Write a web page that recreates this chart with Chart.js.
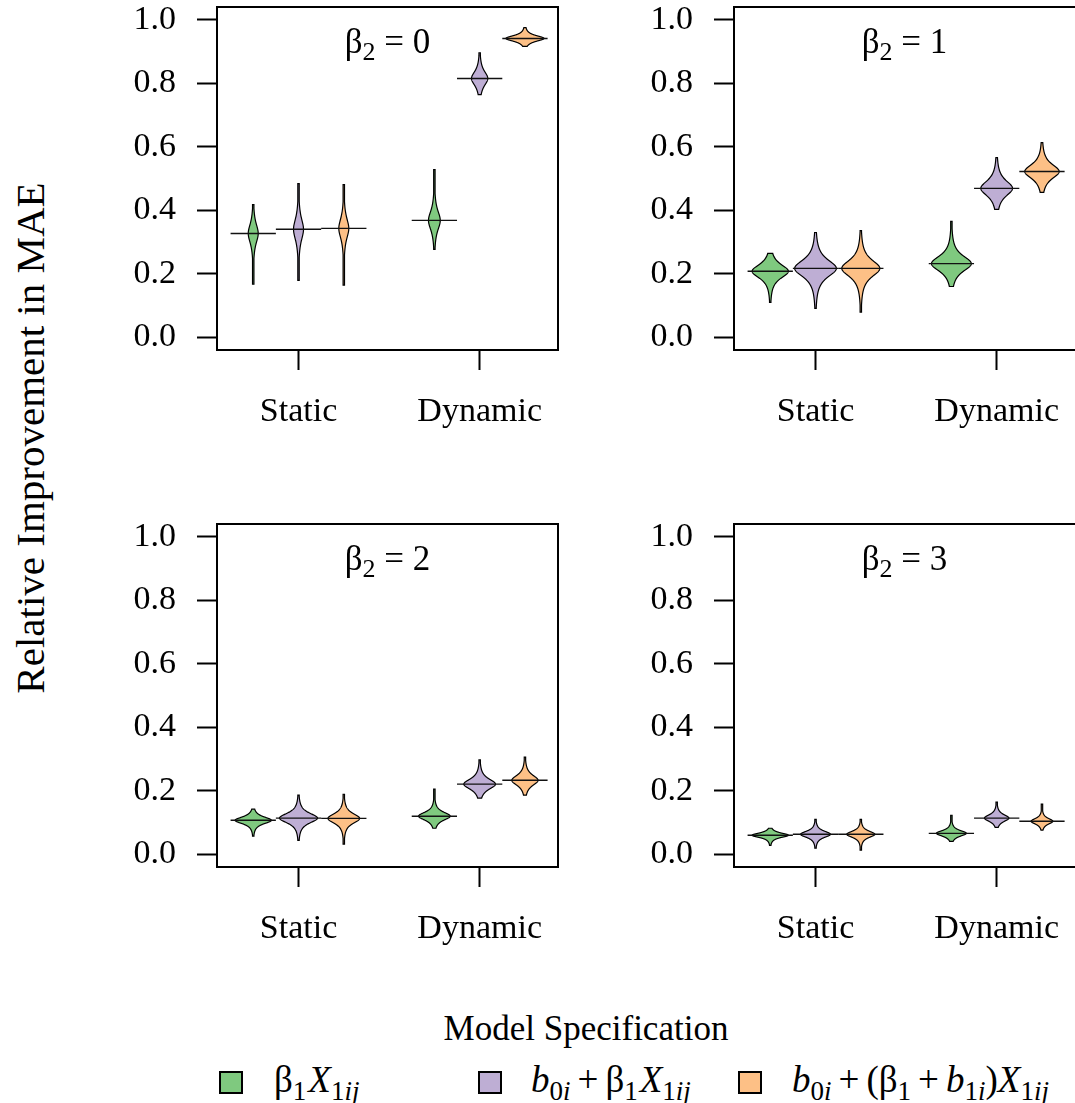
<!DOCTYPE html>
<html>
<head>
<meta charset="utf-8">
<script src="https://cdn.jsdelivr.net/npm/chart.js@4.4.0/dist/chart.umd.min.js"></script>
<style>
  html, body { margin: 0; padding: 0; background: #fff; }
  #fig { position: relative; width: 1075px; height: 1103px; overflow: hidden; font-family: "Liberation Serif", "Times New Roman", serif; color: #000; }
  #fig canvas { position: absolute; }
  .ylab { position: absolute; left: 30px; top: 438px; font-size: 41px; white-space: nowrap; transform: translate(-50%, -50%) rotate(-90deg); }
  .legtitle { position: absolute; left: 586px; top: 1029px; font-size: 35px; transform: translate(-50%, -50%); white-space: nowrap; }
  .legitem { position: absolute; top: 1082px; font-size: 37px; white-space: nowrap; transform: translateY(-50%); }
  .swatch { position: absolute; top: 1071px; width: 20px; height: 19px; border: 2px solid #000; }
  .legitem sub { font-size: 27px; vertical-align: -8px; }
  .op { margin: 0 7px; }
  .gap { margin-left: 2px; }
</style>
</head>
<body>
<div id="fig">
  <canvas id="p0"></canvas>
  <canvas id="p1"></canvas>
  <canvas id="p2"></canvas>
  <canvas id="p3"></canvas>
  <div class="ylab">Relative Improvement in MAE</div>
  <div class="legtitle">Model Specification</div>
  <div class="swatch" style="left:219px;background:#7FC97F"></div>
  <div class="legitem" style="left:274px">β<sub>1</sub><i class="gap">X</i><sub>1<i>ij</i></sub></div>
  <div class="swatch" style="left:478px;background:#BEAED4"></div>
  <div class="legitem" style="left:531px"><i>b</i><sub>0<i>i</i></sub><span class="op">+</span>β<sub>1</sub><i class="gap">X</i><sub>1<i>ij</i></sub></div>
  <div class="swatch" style="left:738px;background:#FDC086"></div>
  <div class="legitem" style="left:792px"><i>b</i><sub>0<i>i</i></sub><span class="op">+</span>(β<sub>1</sub><span class="op">+</span><i>b</i><sub>1<i>i</i></sub>)<i>X</i><sub>1<i>ij</i></sub></div>
</div>
<script>
// panels: beta2 value, one violin per (group, spec) in order
// Static G,P,O then Dynamic G,P,O
const beta2 = ['0', '1', '2', '3'];
const groups = ['Static', 'Dynamic'];
const specs = ['b1X', 'b0i+b1X', 'b0i+(b1+b1i)X'];
const specColors = ['#7FC97F', '#BEAED4', '#FDC086'];
const yTicks = [0, 0.2, 0.4, 0.6, 0.8, 1.0];

const medians = [
  [0.327, 0.340, 0.343, 0.368, 0.815, 0.941],
  [0.208, 0.217, 0.217, 0.232, 0.469, 0.522],
  [0.107, 0.114, 0.113, 0.120, 0.221, 0.233],
  [0.060, 0.063, 0.063, 0.066, 0.114, 0.104]
];
const lows = [
  [0.167, 0.179, 0.164, 0.277, 0.764, 0.916],
  [0.110, 0.091, 0.079, 0.160, 0.403, 0.456],
  [0.057, 0.044, 0.032, 0.082, 0.177, 0.186],
  [0.028, 0.019, 0.013, 0.041, 0.085, 0.076]
];
const highs = [
  [0.418, 0.484, 0.481, 0.528, 0.896, 0.975],
  [0.264, 0.330, 0.336, 0.365, 0.566, 0.613],
  [0.142, 0.186, 0.189, 0.205, 0.297, 0.306],
  [0.082, 0.110, 0.110, 0.123, 0.164, 0.158]
];
// spread of the central bulge (y units)
const spreads = [
  [0.034, 0.038, 0.036, 0.034, 0.025, 0.010],
  [0.024, 0.030, 0.029, 0.027, 0.027, 0.025],
  [0.012, 0.017, 0.017, 0.014, 0.018, 0.018],
  [0.008, 0.011, 0.011, 0.010, 0.012, 0.010]
];
// peak half-width of each violin (x units)
const peakWidths = [
  [0.11, 0.11, 0.11, 0.13, 0.18, 0.42],
  [0.40, 0.46, 0.42, 0.44, 0.35, 0.38],
  [0.40, 0.42, 0.35, 0.35, 0.35, 0.29],
  [0.40, 0.33, 0.31, 0.33, 0.27, 0.24]
];

const groupCenters = [2, 6];
const specOffsets = [-1, 0, 1];
const FONT = '"Liberation Serif", "Times New Roman", serif';

function posOf(k) {
  return groupCenters[Math.floor(k / 3)] + specOffsets[k % 3];
}

const violinPlugin = {
  id: 'violins',
  afterDatasetsDraw(chart, args, opts) {
    const { ctx, chartArea, scales: { x, y } } = chart;
    const p = opts.panel;
    ctx.save();
    ctx.beginPath();
    ctx.rect(chartArea.left, chartArea.top, chartArea.right - chartArea.left, chartArea.bottom - chartArea.top);
    ctx.clip();
    for (let k = 0; k < 6; k++) {
      const pos = posOf(k);
      const med = medians[p][k], lo = lows[p][k], hi = highs[p][k];
      const sd = spreads[p][k];
      const cx = x.getPixelForValue(pos);
      const wpx = x.getPixelForValue(pos + peakWidths[p][k]) - cx;
      const n = 200;
      const pts = [];
      for (let i = 0; i <= n; i++) {
        const v = lo + (hi - lo) * i / n;
        const u = (v - med) / sd;
        let hw = wpx * Math.pow(1 + u * u / 2, -1.5);
        hw = Math.max(hw, 0.7);
        pts.push([y.getPixelForValue(v), hw]);
      }
      ctx.beginPath();
      pts.forEach(([py, hw], i) => i ? ctx.lineTo(cx + hw, py) : ctx.moveTo(cx + hw, py));
      for (let i = pts.length - 1; i >= 0; i--) ctx.lineTo(cx - pts[i][1], pts[i][0]);
      ctx.closePath();
      ctx.fillStyle = specColors[k % 3];
      ctx.fill();
      ctx.lineWidth = 1.2;
      ctx.strokeStyle = '#000';
      ctx.stroke();

      // median bar
      const my = y.getPixelForValue(med);
      ctx.beginPath();
      ctx.moveTo(x.getPixelForValue(pos - 0.5), my);
      ctx.lineTo(x.getPixelForValue(pos + 0.5), my);
      ctx.lineWidth = 1.4;
      ctx.strokeStyle = '#111';
      ctx.stroke();
    }
    ctx.restore();

    // panel title, centred on the visible part of the frame
    const tx = (chartArea.left + Math.min(chartArea.right, opts.titleRight)) / 2;
    const ty = chartArea.top + 46;
    ctx.save();
    ctx.fillStyle = '#000';
    ctx.textBaseline = 'alphabetic';
    ctx.font = '35px ' + FONT;
    const w1 = ctx.measureText('β').width;
    ctx.font = '26px ' + FONT;
    const w2 = ctx.measureText('2').width;
    ctx.font = '35px ' + FONT;
    const rest = ' = ' + beta2[p];
    const w3 = ctx.measureText(rest).width;
    let sx = tx - (w1 + w2 + w3) / 2;
    ctx.fillText('β', sx, ty);
    sx += w1;
    ctx.font = '26px ' + FONT;
    ctx.fillText('2', sx, ty + 7);
    sx += w2;
    ctx.font = '35px ' + FONT;
    ctx.fillText(rest, sx, ty);

    // frame
    ctx.lineWidth = 2;
    ctx.strokeStyle = '#000';
    ctx.strokeRect(chartArea.left, chartArea.top, chartArea.right - chartArea.left, chartArea.bottom - chartArea.top);
    ctx.restore();
  }
};

const canvasW = 480, canvasH = 450;
// right-hand panels run past the window edge, so their frame is cut off
const placement = [
  { left: 90, top: 0, right: 12, xMax: 7.73 },
  { left: 607, top: 0, right: 4, xMax: 7.906 },
  { left: 90, top: 517, right: 12, xMax: 7.73 },
  { left: 607, top: 517, right: 4, xMax: 7.906 }
];

beta2.forEach((b, p) => {
  const cv = document.getElementById('p' + p);
  cv.width = canvasW;
  cv.height = canvasH;
  cv.style.left = placement[p].left + 'px';
  cv.style.top = placement[p].top + 'px';

  const datasets = specs.map((s, j) => ({
    label: s,
    data: [0, 1].map(g => ({ x: posOf(g * 3 + j), y: medians[p][g * 3 + j] })),
    backgroundColor: specColors[j],
    pointRadius: 0
  }));

  new Chart(cv, {
    type: 'scatter',
    data: { datasets },
    plugins: [violinPlugin],
    options: {
      responsive: false,
      animation: false,
      devicePixelRatio: 1,
      layout: { padding: { top: 7, right: placement[p].right, left: 0, bottom: 0 } },
      plugins: {
        legend: { display: false },
        tooltip: { enabled: false },
        violins: { panel: p, titleRight: canvasW - 12 }
      },
      scales: {
        x: {
          type: 'linear',
          min: 0.2,
          max: placement[p].xMax,
          afterFit: s => { s.height = canvasH - 350; s.paddingLeft = 0; s.paddingRight = 0; },
          afterBuildTicks: s => { s.ticks = groupCenters.map(v => ({ value: v })); },
          grid: { display: true, drawOnChartArea: false, drawTicks: true, tickLength: 20, tickWidth: 2, tickColor: '#000' },
          border: { display: false },
          ticks: {
            color: '#000',
            padding: 22,
            maxRotation: 0,
            font: { family: FONT, size: 34 },
            callback: v => groups[groupCenters.indexOf(v)]
          }
        },
        y: {
          type: 'linear',
          min: -0.04,
          max: 1.04,
          afterFit: s => { s.width = 127; s.paddingTop = 0; s.paddingBottom = 0; },
          afterBuildTicks: s => { s.ticks = yTicks.map(v => ({ value: v })); },
          grid: { display: true, drawOnChartArea: false, drawTicks: true, tickLength: 20, tickWidth: 2, tickColor: '#000' },
          border: { display: false },
          ticks: {
            color: '#000',
            padding: 21,
            font: { family: FONT, size: 34 },
            callback: v => v.toFixed(1)
          }
        }
      }
    }
  });
});
</script>
</body>
</html>
